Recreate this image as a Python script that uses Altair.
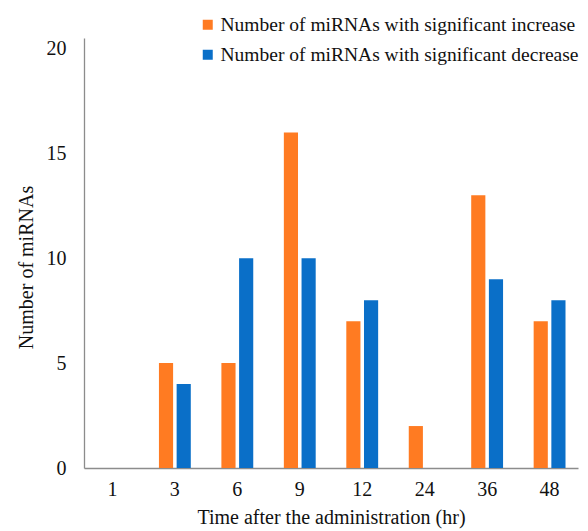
import altair as alt
import pandas as pd

times = ["1", "3", "6", "9", "12", "24", "36", "48"]
increase = [0, 5, 5, 16, 7, 2, 13, 7]
decrease = [0, 4, 10, 10, 8, 0, 9, 8]
series_names = ["Number of miRNAs with significant increase",
                "Number of miRNAs with significant decrease"]
colors = ["#FF7B22", "#0A6FC8"]

rows = []
for t, a, b in zip(times, increase, decrease):
    rows.append({"time": t, "series": series_names[0], "value": a})
    rows.append({"time": t, "series": series_names[1], "value": b})
df = pd.DataFrame(rows)

FONT = "Liberation Serif"

chart = alt.Chart(df).mark_bar().encode(
    x=alt.X("time:N", sort=times,
            scale=alt.Scale(paddingInner=0.49),
            axis=alt.Axis(title="Time after the administration (hr)", labelAngle=0,
                          ticks=False, labelPadding=11, titlePadding=8,
                          domainColor="#8c8c8c", domainWidth=1.3,
                          labelFontSize=20, titleFontSize=20,
                          labelFont=FONT, titleFont=FONT,
                          labelColor="#111", titleColor="#111", titleFontWeight="normal")),
    xOffset=alt.XOffset("series:N", sort=series_names,
                        scale=alt.Scale(paddingInner=0.2)),
    y=alt.Y("value:Q",
            scale=alt.Scale(domain=[0, 20.5], nice=False),
            axis=alt.Axis(title="Number of miRNAs", values=[0, 5, 10, 15, 20],
                          grid=False, ticks=False, labelPadding=18,
                          domainColor="#8c8c8c", domainWidth=1.3,
                          labelFontSize=20, titleFontSize=20,
                          labelFont=FONT, titleFont=FONT,
                          labelColor="#111", titleColor="#111", titleFontWeight="normal",
                          titleX=-48, titleY=229)),
    color=alt.Color("series:N", sort=series_names,
                    scale=alt.Scale(domain=series_names, range=colors),
                    legend=alt.Legend(title=None, orient="none", legendX=114, legendY=-23,
                                      padding=0,
                                      symbolType="square", symbolSize=100,
                                      symbolStrokeWidth=0, labelFont=FONT,
                                      labelFontSize=19.5, labelColor="#111",
                                      rowPadding=9, labelOffset=3,
                                      labelLimit=500)),
).properties(
    width=494, height=430,
    padding={"left": 84, "top": 38, "right": 10, "bottom": 63},
    autosize=alt.AutoSizeParams(type="none"),
).configure_view(stroke=None)

chart.save("out.html", embed_options={"renderer": "svg", "actions": False})
